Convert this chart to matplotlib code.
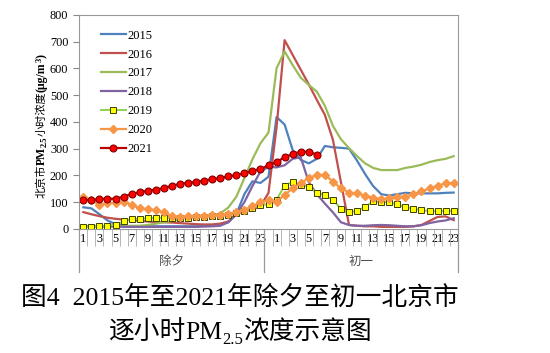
import matplotlib.pyplot as plt
import numpy as np

# hours: 除夕 1..23, 初一 0..23  (47 categories)
hours_chuxi = list(range(1, 24))
hours_chuyi = list(range(0, 24))
day_names = ['除夕', '初一']

s2015 = [81, 77, 55, 32, 18, 12, 10, 10, 10, 10, 10, 10, 10, 10, 10, 12, 15, 18, 25, 55,
         130, 178, 172, 195, 418, 390, 295, 258, 245, 262, 310, 305, 303, 300, 255, 205, 160,
         130, 125, 130, 135, 133, 133, 133, 133, 135, 136]
s2016 = [63, 55, 48, 42, 38, 35, 33, 30, 28, 26, 25, 24, 22, 20, 18, 17, 17, 20, 28, 55,
         67, 72, 85, 135, 380, 705, 650, 595, 540, 482, 426, 333, 174, 15, 12, 10, 10,
         8, 8, 8, 8, 10, 15, 30, 45, 47, 33]
s2017 = [10, 10, 10, 10, 10, 10, 12, 12, 15, 20, 25, 30, 38, 42, 45, 47, 50, 58, 80, 120,
         190, 260, 320, 360, 600, 663, 612, 565, 538, 513, 460, 385, 335, 302, 272, 245, 228,
         220, 220, 220, 228, 233, 240, 250, 257, 262, 272]
s2018 = [10, 10, 10, 10, 9, 8, 8, 8, 8, 8, 8, 8, 8, 8, 8, 9, 10, 12, 25, 55,
         100, 160, 215, 232, 230, 238, 262, 268, 175, 130, 95, 62, 25, 15, 12, 12, 14,
         15, 14, 12, 10, 10, 14, 22, 28, 32, 40]
s2019 = [9, 9, 10, 13, 16, 28, 37, 38, 41, 41, 42, 42, 40, 42, 44, 46, 48, 50, 52, 58,
         68, 77, 90, 93, 110, 161, 177, 165, 158, 136, 126, 108, 76, 64, 67, 83, 103,
         101, 100, 92, 82, 76, 70, 67, 66, 67, 67]
s2020 = [121, 108, 90, 96, 98, 102, 90, 78, 74, 70, 62, 48, 45, 48, 50, 50, 52, 53, 57, 62,
         72, 85, 100, 108, 102, 127, 152, 171, 190, 202, 202, 177, 152, 136, 133, 125, 117,
         111, 115, 121, 121, 130, 140, 152, 161, 171, 171]
s2021 = [108, 108, 112, 113, 113, 121, 131, 137, 143, 147, 153, 162, 168, 173, 175, 181, 186,
         190, 196, 202, 208, 217, 224, 238, 250, 268, 280, 289, 288, 278]

SERIF = 'Liberation Serif'
CJK = 'Noto Sans CJK SC'
plt.rcParams['font.family'] = [SERIF, CJK]

fig = plt.figure(figsize=(5.5, 3.53), dpi=100)
ax = fig.add_axes([0.1442, 0.3513, 0.688, 0.607])
renderer = fig.canvas.get_renderer()


def pieces_text(cx, cy, pieces, vertical=False):
    # pieces: (text, fontsize, weight, shift in px) - laid out one after another, centred on cx/cy
    objs = []
    sizes = []
    for s, fs, wt, sh in pieces:
        if vertical:
            t = fig.text(0, 0, s, transform=None, fontsize=fs, fontweight=wt, rotation=90,
                         rotation_mode='anchor', ha='left', va='baseline')
            sizes.append(t.get_window_extent(renderer).height)
        else:
            t = fig.text(0, 0, s, transform=None, fontsize=fs, fontweight=wt,
                         ha='left', va='baseline')
            sizes.append(t.get_window_extent(renderer).width)
        objs.append(t)
    pos = -sum(sizes) / 2
    for t, w, p in zip(objs, sizes, pieces):
        if vertical:
            t.set_position((cx + p[3], cy + pos))
        else:
            t.set_position((cx + pos, cy - p[3]))
        pos += w


x = np.arange(len(s2015))
ax.plot(x, s2015, color='#4F81BD', lw=1.6, label='2015')
ax.plot(x, s2016, color='#C0504D', lw=1.6, label='2016')
ax.plot(x, s2017, color='#9BBB59', lw=1.6, label='2017')
ax.plot(x, s2018, color='#8064A2', lw=1.6, label='2018')
ax.plot(x, s2019, color='#92D050', lw=1.4, marker='s', ms=4.5, mfc='#FFFF00', mec='#404000',
        mew=0.7, label='2019')
ax.plot(x, s2020, color='#F79646', lw=1.6, marker='D', ms=4, mfc='#F79646', mec='#F79646',
        label='2020')
ax.plot(x[:len(s2021)], s2021, color='#C00000', lw=1.6, marker='o', ms=5, mfc='#FF0000',
        mec='#7F0000', mew=0.8, label='2021')

ax.set_xlim(-0.5, len(x) - 0.5)
ax.set_ylim(0, 800)
ax.set_yticks(range(0, 801, 100))
ax.tick_params(axis='y', labelsize=8.8, length=4, color='#888888', pad=4)

# category labels, every other hour
labels = [str(h) for h in hours_chuxi] + [str(h) for h in hours_chuyi]
ax.set_xticks(x[::2])
ax.set_xticklabels(labels[::2], fontsize=8.8)
ax.tick_params(axis='x', length=0, pad=3)
ax.set_xticks(np.arange(-0.5, len(x), 1), minor=True)
ax.tick_params(axis='x', which='minor', length=12, color='#AAAAAA')

for sp in ax.spines.values():
    sp.set_color('#999999')

# second level of the axis
n1 = len(hours_chuxi)
tr = ax.get_xaxis_transform()
for xs in [-0.5, n1 - 0.5, len(x) - 0.5]:
    ax.plot([xs, xs], [0, -0.2], color='#999999', lw=0.9, transform=tr, clip_on=False)
ax.text((n1 - 1) / 2, -0.155, day_names[0], transform=tr, ha='center', va='center',
        fontsize=9, color='#505050')
ax.text((n1 - 0.5 + len(x) - 0.5) / 2, -0.155, day_names[1], transform=tr, ha='center',
        va='center', fontsize=9, color='#505050')

# y label: 北京市PM2.5小时浓度(μg/m3), drawn piece by piece
pieces_text(45, 353 - 126, [('北京市', 8, 'normal', 0), ('PM', 8.5, 'bold', 0),
                            ('2.5', 6, 'bold', 2), ('小时浓度', 8, 'normal', 0),
                            ('(μg/m', 8.5, 'bold', 0), ('3', 6, 'bold', -3.5),
                            (')', 8.5, 'bold', 0)], vertical=True)

ax.legend(loc='upper left', bbox_to_anchor=(0.057, 0.93), frameon=False, fontsize=9,
          handlelength=2.0, handletextpad=0.1, labelspacing=0.55, borderpad=0,
          borderaxespad=0)

fig.text(0.436, 0.156, '图4  2015年至2021年除夕至初一北京市', ha='center', va='center',
         fontsize=18.5)
pieces_text(240, 353 - 339, [('逐小时', 18.5, 'normal', 0), ('PM', 18.5, 'normal', 0),
                             ('2.5', 12, 'normal', 5), ('浓度示意图', 18.5, 'normal', 0)])

fig.savefig('out.png', dpi=100)
